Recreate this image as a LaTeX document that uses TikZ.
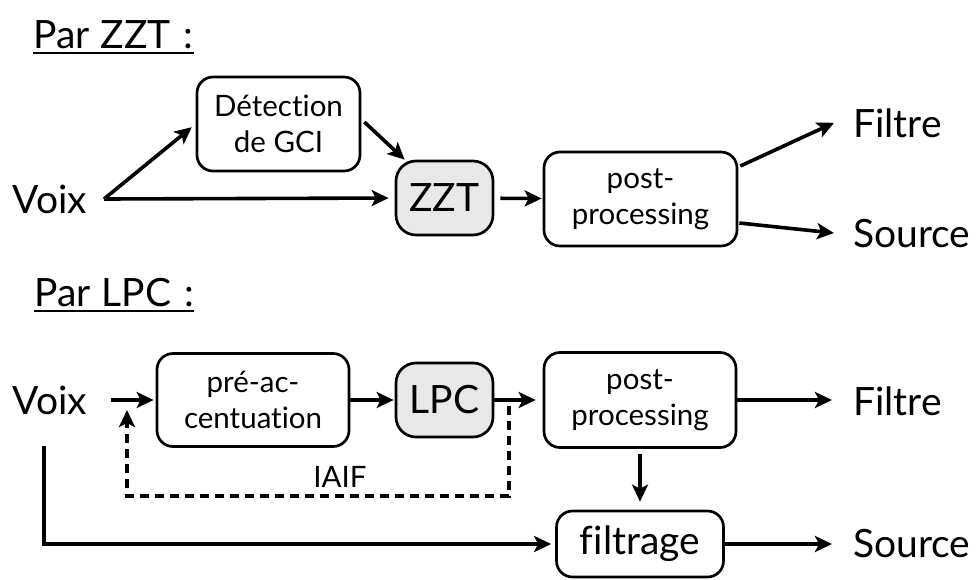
\documentclass[tikz,border=0pt]{standalone}
\usepackage{fontspec}
\setmainfont{Lato}[Ligatures={NoCommon}]
\usetikzlibrary{arrows.meta}
\begin{document}
\begin{tikzpicture}[x=1pt,y=-1pt,
  big/.style={font=\fontsize{39}{45}\selectfont, inner sep=0pt},
  small/.style={font=\fontsize{29.5}{36}\selectfont, inner sep=0pt},
  blk/.style={draw, line width=2.7pt, rounded corners=16pt, align=center,
    font=\fontsize{29.5}{36}\selectfont, inner sep=0pt},
  core/.style={blk, fill=black!9, rounded corners=20pt,
    font=\fontsize{39}{45}\selectfont},
  arr/.style={line width=3.6pt, -{Stealth[length=17pt,width=16pt,inset=4pt]}},
  fb/.style={arr, dash pattern=on 9pt off 6pt},
  uline/.style={line width=2.2pt}]
\useasboundingbox (0,0) rectangle (976,579);

% ---- ZZT chain ----
\node[big, anchor=base west] (parA) at (33,48) {Par\hspace{11pt}ZZT\hspace{13pt}:};
\draw[uline] ([yshift=-5pt]parA.base west) -- ([yshift=-5pt]parA.base east);

\node[big] (voixA) at (50,199) {Voix};
\coordinate (fork) at (104,199);
\node[blk, minimum width=163pt, minimum height=94pt] (det) at (278.5,124) {Détection\\de GCI};
\node[core, minimum width=97pt, minimum height=74pt] (zzt) at (444.5,198) {ZZT};
\node[blk, minimum width=193pt, minimum height=94pt] (postA) at (640.5,199) {post-\\processing};
\node[big, anchor=base west] (filtreA) at (853,137) {Filtre};
\node[big, anchor=base west] (sourceA) at (853,247) {Source};

\draw[arr, shorten >=5pt] (fork) -- (det.west);
\draw[arr, shorten >=6pt] (fork) -- (zzt.west);
\draw[arr] ([shift={(3pt,2pt)}]det.east) -- ([shift={(10pt,0pt)}]zzt.north west);
\draw[arr, shorten <=6pt, shorten >=1pt] (zzt) -- (postA);
\draw[arr] ([shift={(2pt,33pt)}]postA.east) -- ([shift={(-19pt,0pt)}]filtreA.west);
\draw[arr] ([shift={(1pt,-24pt)}]postA.east) -- ([shift={(-19pt,0pt)}]sourceA.west);

% ---- LPC chain ----
\node[big, anchor=base west] (parB) at (34,306) {Par\hspace{11pt}LPC\hspace{13pt}:};
\draw[uline] ([yshift=-5pt]parB.base west) -- ([yshift=-5pt]parB.base east);

\node[big] (voixB) at (50,400) {Voix};
\node[blk, minimum width=192pt, minimum height=93pt] (pre) at (253,400) {pré-ac-\\centuation};
\node[core, minimum width=97pt, minimum height=74pt] (lpc) at (444.5,400) {LPC};
\node[blk, minimum width=192pt, minimum height=95pt] (postB) at (640,400) {post-\\processing};
\node[blk, font=\fontsize{39}{45}\selectfont, minimum width=167pt, minimum height=66pt] (filt) at (640,544) {filtrage};
\node[big, anchor=base west] (filtreB) at (853,415) {Filtre};
\node[big, anchor=base west] (sourceB) at (853,557) {Source};
\node[small, anchor=base] (iaif) at (340,487) {IAIF};

\coordinate (tap) at (509,406);
\coordinate (loop) at (127,496);
\coordinate (back) at (127,410);

\draw[arr, shorten <=24pt, shorten >=2pt] (voixB.east) -- (pre.west);
\draw[arr, shorten >=1pt] (pre) -- (lpc);
\draw[arr, shorten >=7pt] (lpc) -- (postB);
\draw[fb] (tap) |- (loop) -- (back);
\draw[arr, shorten >=21pt] (postB) -- (postB -| filtreB.west);
\draw[arr, shorten <=5pt, shorten >=8pt] (postB) -- (filt);
\draw[arr, shorten >=4pt] ([shift={(-6pt,-31pt)}]voixB.south) |- (filt.west);
\draw[arr, shorten >=21pt] (filt) -- (filt -| sourceB.west);
\end{tikzpicture}
\end{document}
